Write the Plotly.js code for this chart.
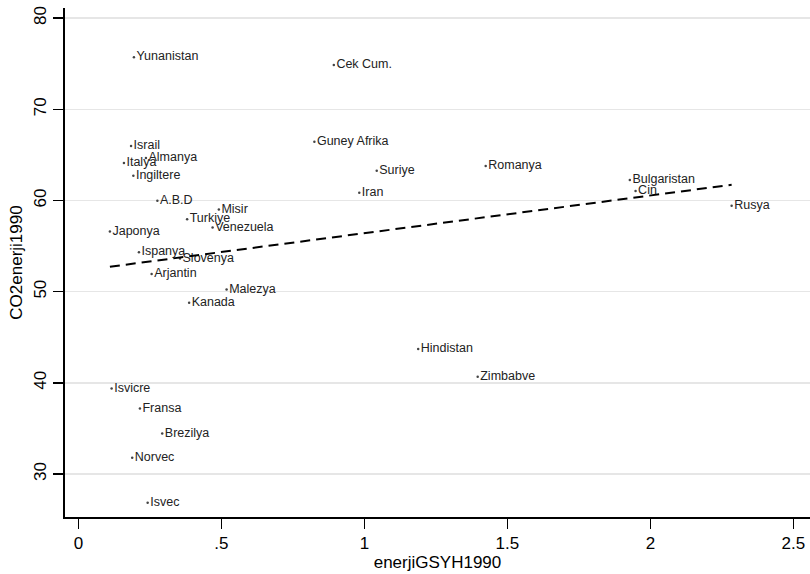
<!DOCTYPE html>
<html>
<head>
<meta charset="utf-8">
<script src="https://cdn.plot.ly/plotly-3.0.1.min.js"></script>
<style>html,body{margin:0;padding:0;background:#fff;}#chart{width:810px;height:574px;}</style>
</head>
<body>
<div id="chart"></div>
<script>
const countries = ["Yunanistan","Cek Cum.","Israil","Almanya","Italya","Ingiltere","A.B.D","Misir","Turkiye","Venezuela","Japonya","Ispanya","Slovenya","Arjantin","Malezya","Kanada","Isvicre","Fransa","Brezilya","Norvec","Isvec","Guney Afrika","Suriye","Romanya","Iran","Hindistan","Zimbabve","Bulgaristan","Cin","Rusya"];
const enerjiGSYH1990 = [0.194,0.893,0.184,0.236,0.159,0.192,0.276,0.491,0.380,0.469,0.110,0.2115,0.355,0.256,0.518,0.387,0.116,0.215,0.293,0.188,0.242,0.825,1.043,1.424,0.982,1.188,1.396,1.928,1.948,2.284];
const CO2enerji1990 = [75.7,74.85,65.96,64.65,64.1,62.7,59.97,59.02,57.93,57.05,56.6,54.31,53.65,51.93,50.25,48.78,39.4,37.2,34.46,31.79,26.85,66.44,63.26,63.77,60.85,43.71,40.67,62.24,61.03,59.42];
const xTickVals = [0,0.5,1,1.5,2,2.5];
const xTickText = ["0",".5","1","1.5","2","2.5"];
const yTickVals = [30,40,50,60,70,80];

// linear fit (OLS) over the data, drawn from min to max x
const n = enerjiGSYH1990.length;
const mx = enerjiGSYH1990.reduce((a,b)=>a+b,0)/n;
const my = CO2enerji1990.reduce((a,b)=>a+b,0)/n;
let sxy=0, sxx=0;
for(let i=0;i<n;i++){sxy+=(enerjiGSYH1990[i]-mx)*(CO2enerji1990[i]-my);sxx+=(enerjiGSYH1990[i]-mx)**2;}
const b1 = sxy/sxx, b0 = my - b1*mx;
const xmin = Math.min(...enerjiGSYH1990), xmax = Math.max(...enerjiGSYH1990);
const fitX = [], fitY = [];
for(let k=0;k<=50;k++){const xv = xmin+(xmax-xmin)*k/50; fitX.push(xv); fitY.push(b0+b1*xv);}

const font = "Liberation Sans, Arial, sans-serif";
const data = [
  {x: enerjiGSYH1990, y: CO2enerji1990, text: countries, type:"scatter", mode:"markers+text",
   textposition:"middle right", textfont:{family:font,size:12.5,color:"#222"},
   marker:{size:2.5,color:"#444"}, hoverinfo:"skip", cliponaxis:false},
  {x: fitX, y: fitY, type:"scatter", mode:"lines", line:{color:"#000",width:2,dash:"10px,6px"}, hoverinfo:"skip"}
];
const layout = {
  width:810, height:574, showlegend:false,
  paper_bgcolor:"#fff", plot_bgcolor:"#fff",
  margin:{l:65,r:0,t:8,b:57},
  font:{family:font,color:"#000"},
  xaxis:{range:[-0.047,2.558], tickvals:xTickVals, ticktext:xTickText, showgrid:false, zeroline:false,
    showline:true, linecolor:"#000", linewidth:2, ticks:"outside", ticklen:10, tickwidth:1.5, tickcolor:"#000",
    tickfont:{family:font,size:17,color:"#000"},
    title:{text:"enerjiGSYH1990", font:{family:font,size:17,color:"#000"}, standoff:2}},
  yaxis:{range:[25.3,81.1], tickvals:yTickVals, showgrid:true, gridcolor:"#e6e6e6", gridwidth:1.5, zeroline:false,
    showline:true, linecolor:"#000", linewidth:2, ticks:"outside", ticklen:10, tickwidth:1.5, tickcolor:"#000",
    tickangle:-90, tickfont:{family:font,size:17,color:"#000"},
    title:{text:"CO2enerji1990", font:{family:font,size:17,color:"#000"}, standoff:4}}
};
Plotly.newPlot("chart", data, layout, {displayModeBar:false, staticPlot:true});
</script>
</body>
</html>
